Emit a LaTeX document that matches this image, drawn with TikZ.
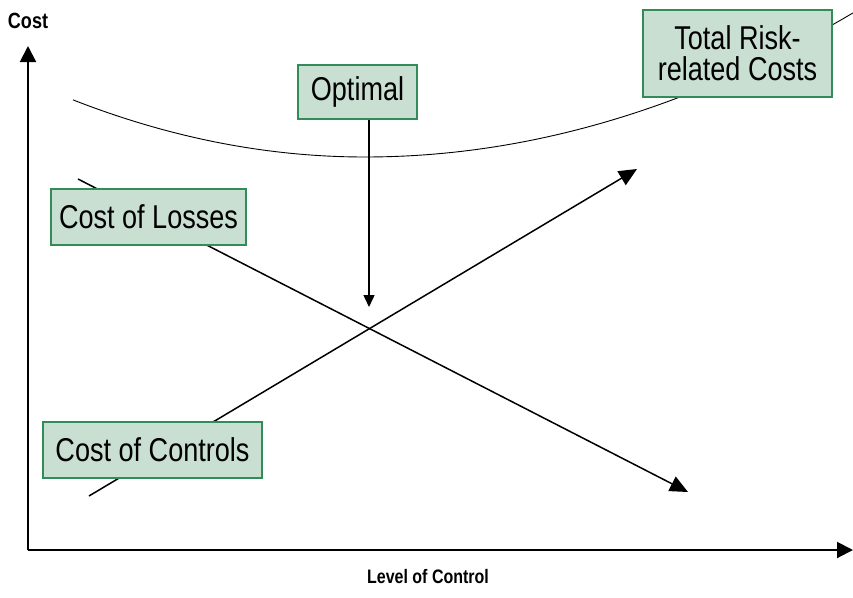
\documentclass[tikz,border=0pt]{standalone}
\usepackage{fontspec}
\setmainfont{Liberation Sans}[FakeStretch=0.82]
\usetikzlibrary{arrows.meta}
\definecolor{boxfill}{RGB}{201,223,210}
\definecolor{boxline}{RGB}{50,140,90}
\tikzset{
  costbox/.style={draw=boxline, fill=boxfill, line width=1.1pt, inner sep=0pt,
    font=\fontsize{33}{31}\selectfont, align=center},
  axislabel/.style={font=\bfseries},
  bigtip/.style={-{Triangle[length=16pt,width=16pt]}},
}
\begin{document}
\begin{tikzpicture}[x=1pt,y=-1pt]
\useasboundingbox (0,0) rectangle (853,597);

% axes
\coordinate (origin) at (28,550);
\coordinate (ytip) at (28,46);
\coordinate (xtip) at (853,550);
\draw[bigtip, line width=2pt] (origin) -- (ytip);
\draw[bigtip, line width=2pt] (origin) -- (xtip);
\node[axislabel, font=\bfseries\fontsize{22}{24}\selectfont] (costlab) at (28,21) {Cost};
\node[axislabel, font=\bfseries\fontsize{19.5}{20}\selectfont] (levellab) at (428,577) {Level of Control};

% total cost curve
\draw[line width=0.9pt] plot[domain=73:365, samples=40] (\x, {157-0.067*((\x-365)/10)^2})
  -- plot[domain=365:853, samples=50] (\x, {157-0.0605*((\x-365)/10)^2});

% the two cost lines
\coordinate (lossstart) at (78,179);
\coordinate (lossend) at (688,492);
\coordinate (ctrlstart) at (89,496);
\coordinate (ctrlend) at (637,169);
\draw[line width=1.5pt, -{Triangle[length=18pt,width=16pt]}] (lossstart) -- (lossend);
\draw[line width=1.5pt, -{Triangle[length=18pt,width=16pt]}] (ctrlstart) -- (ctrlend);

\node[costbox, minimum width=119, minimum height=54] (optimal) at (357.5,92) {Optimal};
\node[costbox, minimum width=189, minimum height=87] (total) at (737.5,53.5) {Total Risk-\\related Costs};
\node[costbox, minimum width=195, minimum height=56] (losses) at (148.5,217) {Cost of Losses};
\node[costbox, minimum width=219, minimum height=56] (controls) at (152.5,450) {Cost of Controls};

\coordinate (cross) at (369,307);
\draw[line width=1.5pt, -{Triangle[length=12pt,width=11pt]}] (optimal.south -| cross) -- (cross);
\end{tikzpicture}
\end{document}
